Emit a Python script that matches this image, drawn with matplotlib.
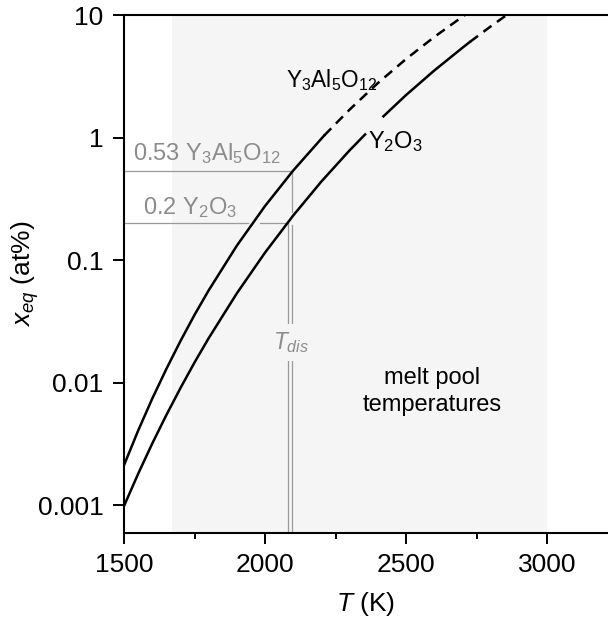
import numpy as np
import matplotlib
matplotlib.use('Agg')
import matplotlib.pyplot as plt
from matplotlib.ticker import FixedLocator, NullLocator

# curve data (T in K, x_eq in at%)
T_yag_solid = [1500, 1550, 1600, 1650, 1700, 1750, 1800, 1900, 2000, 2100, 2210]
x_yag_solid = [0.00212, 0.00405, 0.00739, 0.0129, 0.0218, 0.0357, 0.0565, 0.131, 0.276, 0.538, 1.04]
T_yag_dash = [2210, 2300, 2400, 2500, 2600, 2700, 2720]
x_yag_dash = [1.04, 1.69, 2.78, 4.37, 6.61, 9.68, 10.4]

T_y2o3_solid_a = [1500, 1550, 1600, 1650, 1700, 1750, 1800, 1900, 2000, 2100, 2200, 2300, 2355]
x_y2o3_solid_a = [0.000984, 0.00180, 0.00318, 0.00543, 0.00901, 0.0146, 0.0230, 0.0535, 0.115,
                  0.231, 0.438, 0.786, 1.06]
T_y2o3_solid_b = [2420, 2500, 2600, 2700, 2727]
x_y2o3_solid_b = [1.49, 2.22, 3.52, 5.40, 6.04]
T_y2o3_dash = [2727, 2800, 2870]
x_y2o3_dash = [6.04, 8.06, 10.5]

# dissolution guide values
x_yag_dis = 0.53
x_y2o3_dis = 0.2
T_dis_yag = 2095
T_dis_y2o3 = 2080

# melt pool range
T_pool = [1670, 3000]

yticks = [0.001, 0.01, 0.1, 1, 10]
yticklabels = ['0.001', '0.01', '0.1', '1', '10']
xticks = [1500, 2000, 2500, 3000]
xminor = [1750, 2250, 2750]

plt.rcParams['font.family'] = ['Liberation Sans', 'DejaVu Sans']
plt.rcParams['mathtext.fontset'] = 'custom'
plt.rcParams['mathtext.rm'] = 'Liberation Sans'
plt.rcParams['mathtext.it'] = 'Liberation Sans:italic'

fig = plt.figure(figsize=(6.08, 6.22), dpi=100)
ax = fig.add_axes([124 / 608, 1 - 533 / 622, 1 - 124 / 608, (533 - 15) / 622])

gray_line = '#9a9a9a'
gray_text = '#8c8c8c'
shade = '#f5f5f5'

ax.axvspan(T_pool[0], T_pool[1], color=shade, zorder=0, lw=0)

# gray guides
lw_g = 0.9
ax.plot([1500, T_dis_yag], [x_yag_dis, x_yag_dis], color=gray_line, lw=lw_g, zorder=2)
ax.plot([1500, 1940], [x_y2o3_dis, x_y2o3_dis], color=gray_line, lw=lw_g, zorder=2)
ax.plot([1982, T_dis_y2o3], [x_y2o3_dis, x_y2o3_dis], color=gray_line, lw=lw_g, zorder=2)
ax.plot([T_dis_yag, T_dis_yag], [x_yag_dis, 0.245], color=gray_line, lw=lw_g, zorder=2)
ax.plot([T_dis_yag, T_dis_yag], [0.192, 1e-4], color=gray_line, lw=lw_g, zorder=2)
ax.plot([T_dis_y2o3, T_dis_y2o3], [x_y2o3_dis, 1e-4], color=gray_line, lw=lw_g, zorder=2)

# curves
lw = 1.8
ax.plot(T_yag_solid, x_yag_solid, color='black', lw=lw, zorder=3)
ax.plot(T_yag_dash, x_yag_dash, color='black', lw=lw, zorder=3, dashes=(4, 2.7))
ax.plot(T_y2o3_solid_a, x_y2o3_solid_a, color='black', lw=lw, zorder=3)
ax.plot(T_y2o3_solid_b, x_y2o3_solid_b, color='black', lw=lw, zorder=3)
ax.plot(T_y2o3_dash, x_y2o3_dash, color='black', lw=lw, zorder=3, dashes=(4, 2.7))

# labels
fs = 17
ax.text(2076, 2.57, r'Y$_3$Al$_5$O$_{12}$', fontsize=16.3, ha='left', va='baseline', zorder=4)
ax.text(2366, 0.814, r'Y$_2$O$_3$', fontsize=fs, ha='left', va='baseline', zorder=4)
ax.text(1532, 0.649, r'0.53 Y$_3$Al$_5$O$_{12}$', fontsize=fs, color=gray_text,
        ha='left', va='baseline', zorder=4)
ax.text(1568, 0.239, r'0.2 Y$_2$O$_3$', fontsize=fs, color=gray_text,
        ha='left', va='baseline', zorder=4)
ax.text(2094, 0.0213, r'$T_{dis}$', fontsize=16.5, color=gray_text, ha='center', va='center',
        zorder=4, bbox=dict(boxstyle='square,pad=0.25', facecolor=shade, edgecolor='none'))
ax.text(2592, 0.0085, 'melt pool\ntemperatures', fontsize=fs, ha='center', va='center',
        linespacing=1.3, zorder=4)

ax.set_yscale('log')
ax.set_xlim(1500, 1500 + (608 - 124) * 500 / 141)
ax.set_ylim(10 ** (-3.227), 10)

ax.yaxis.set_major_locator(FixedLocator(yticks))
ax.set_yticklabels(yticklabels)
ax.yaxis.set_minor_locator(NullLocator())
ax.set_xticks(xticks)
ax.set_xticklabels([str(t) for t in xticks])
ax.xaxis.set_minor_locator(FixedLocator(xminor))

ax.tick_params(which='major', direction='out', length=7.7, width=1.4, labelsize=19, pad=7)
ax.tick_params(axis='y', which='major', pad=7)
ax.tick_params(which='minor', direction='out', length=4.2, width=1.4)

for side in ['left', 'bottom', 'top']:
    ax.spines[side].set_linewidth(1.5)
ax.spines['right'].set_visible(False)

ax.set_xlabel(r'$T$ (K)', fontsize=19, labelpad=9)
ax.set_ylabel(r'$x_{eq}$ (at%)', fontsize=19, labelpad=-2)

plt.savefig('out.png', dpi=100)
